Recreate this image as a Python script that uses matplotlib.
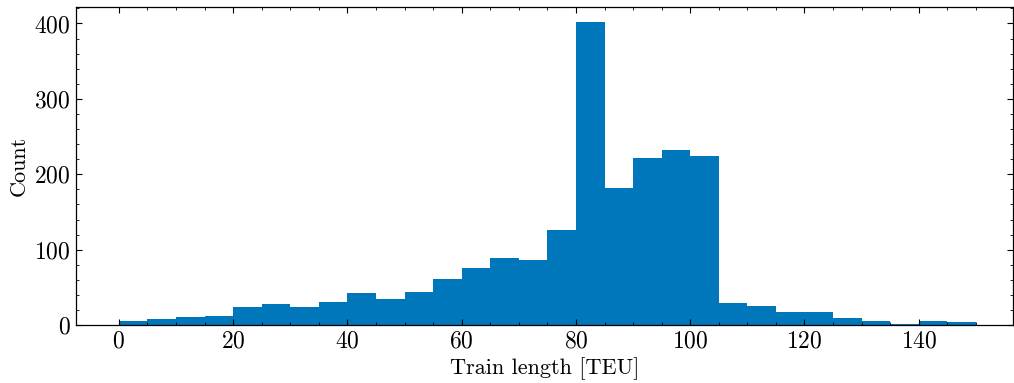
import matplotlib.pyplot as plt
import numpy as np

# histogram of train lengths, 5 TEU bins from 0 to 150
bin_edges = np.arange(0, 155, 5)
counts = [6, 8, 11, 12, 24, 28, 24, 31, 42, 35,
          44, 61, 76, 89, 87, 126, 402, 182, 221, 232,
          224, 29, 26, 18, 17, 9, 5, 1, 5, 4]

plt.rcParams['font.family'] = 'serif'
plt.rcParams['font.serif'] = ['cmr10']
plt.rcParams['mathtext.fontset'] = 'cm'
plt.rcParams['axes.formatter.use_mathtext'] = True

fig = plt.figure(figsize=(10.14, 3.83), dpi=100)
ax = fig.add_axes([0.075, 0.151, 0.924, 0.831])

ax.hist(bin_edges[:-1], bins=bin_edges, weights=counts, color='#0077BB')

ax.set_xlim(-7.5, 156.5)
ax.set_ylim(0, 422)
ax.set_xticks(np.arange(0, 160, 20))
ax.set_yticks(np.arange(0, 500, 100))
ax.set_xticks(np.arange(0, 155, 5), minor=True)
ax.set_yticks(np.arange(0, 422, 20), minor=True)
ax.tick_params(which='both', direction='in', top=True, right=True, labelsize=17)
ax.tick_params(which='major', length=4.5, width=0.8, pad=4)
ax.tick_params(which='minor', length=2.5, width=0.6)
for s in ax.spines.values():
    s.set_linewidth(0.9)

ax.set_xlabel('Train length [TEU]', fontsize=16, labelpad=3)
ax.set_ylabel('Count', fontsize=16, labelpad=4)

fig.savefig('out.png', dpi=100)
